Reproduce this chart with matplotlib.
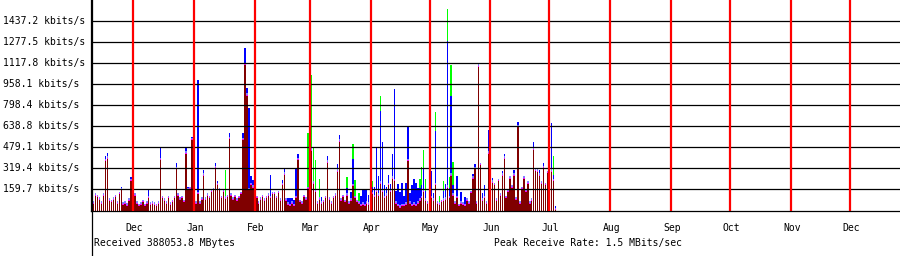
import matplotlib
matplotlib.use('Agg')
import matplotlib.pyplot as plt
import matplotlib.dates as mdates
import matplotlib.transforms as mtransforms
from matplotlib.lines import Line2D
import numpy as np
import pandas as pd

# daily traffic, kbits/s, starting 10 Nov
start = '2005-11-10'
red = [230, 60, 120, 110, 90, 60, 120, 380, 400, 80,
       70, 90, 110, 60, 130, 160, 50, 60, 45, 80,
       230, 225, 120, 60, 40, 50, 70, 40, 60, 100,
       50, 60, 50, 40, 60, 390, 100, 80, 60, 100,
       50, 70, 100, 320, 120, 90, 100, 70, 440, 160,
       170, 540, 110, 60, 130, 60, 90, 270, 90, 120,
       100, 150, 160, 330, 200, 160, 100, 150, 95, 110,
       550, 120, 90, 110, 80, 100, 130, 540, 1110, 880,
       160, 200, 180, 120, 100, 60, 90, 110, 80, 100,
       120, 100, 130, 130, 100, 140, 80, 200, 280, 80,
       50, 40, 60, 40, 100, 390, 70, 60, 110, 90,
       170, 100, 460, 210, 150, 60, 90, 60, 70, 100,
       370, 90, 60, 100, 120, 300, 530, 80, 110, 70,
       120, 60, 80, 190, 100, 70, 60, 40, 50, 40,
       60, 50, 100, 130, 110, 150, 120, 210, 150, 100,
       120, 200, 150, 250, 230, 60, 40, 30, 40, 40,
       50, 380, 60, 40, 50, 40, 60, 80, 100, 150,
       80, 60, 60, 100, 80, 200, 60, 50, 70, 80,
       90, 180, 100, 270, 120, 60, 100, 40, 60, 50,
       40, 80, 60, 140, 250, 320, 60, 1100, 350, 80,
       100, 60, 440, 100, 220, 200, 80, 230, 120, 270,
       400, 100, 150, 250, 180, 270, 90, 640, 60, 170,
       250, 150, 210, 60, 80, 470, 310, 300, 270, 210,
       330, 200, 290, 100, 300, 230, 10]
blue = [520, 0, 0, 0, 0, 0, 0, 20, 25, 0,
        0, 0, 0, 0, 0, 10, 0, 0, 0, 0,
        10, 0, 0, 0, 0, 0, 0, 0, 0, 50,
        0, 0, 0, 0, 0, 70, 0, 0, 0, 0,
        0, 0, 0, 30, 0, 0, 0, 0, 25, 10,
        0, 10, 0, 0, 850, 0, 0, 25, 0, 0,
        0, 0, 0, 20, 15, 0, 0, 0, 0, 0,
        30, 0, 0, 0, 0, 0, 0, 35, 110, 36,
        610, 50, 40, 0, 0, 0, 0, 0, 0, 0,
        0, 160, 0, 0, 0, 0, 0, 20, 20, 0,
        30, 40, 20, 30, 200, 25, 0, 0, 0, 0,
        0, 0, 0, 0, 0, 0, 0, 30, 0, 0,
        30, 0, 0, 0, 0, 40, 30, 0, 0, 0,
        40, 0, 50, 190, 0, 0, 0, 60, 100, 110,
        90, 60, 0, 40, 60, 310, 130, 530, 355, 80,
        50, 60, 40, 170, 680, 80, 150, 100, 160, 60,
        150, 245, 60, 140, 180, 160, 100, 80, 80, 155,
        60, 0, 0, 190, 40, 390, 0, 0, 0, 60,
        100, 1095, 60, 590, 60, 0, 150, 0, 70, 0,
        50, 0, 0, 0, 15, 25, 0, 0, 0, 40,
        80, 0, 160, 0, 15, 0, 0, 0, 0, 15,
        15, 0, 0, 0, 0, 25, 0, 20, 0, 0,
        0, 0, 0, 0, 0, 35, 0, 0, 25, 0,
        20, 0, 0, 0, 350, 30, 10]
green_day = [21, 68, 110, 112, 113, 114, 116, 130, 133, 134, 136, 143, 147,
             167, 168, 169, 170, 175, 177, 179, 181, 182, 183, 184, 235]
green_val = [140, 200, 405, 560, 260, 220, 140, 85, 115, 120, 60, 40, 115,
             70, 140, 140, 90, 145, 50, 70, 245, 80, 230, 180, 140]

tick_vals = [159.7, 319.4, 479.1, 638.8, 798.4, 958.1, 1117.8, 1277.5, 1437.2]
months = ['Dec', 'Jan', 'Feb', 'Mar', 'Apr', 'May', 'Jun', 'Jul',
          'Aug', 'Sep', 'Oct', 'Nov', 'Dec']
month_starts = pd.date_range('2005-12-01', periods=13, freq='MS')

red = np.array(red, dtype=float)
blue = np.array(blue, dtype=float)
green = np.zeros(len(red))
green[green_day] = green_val
days = mdates.date2num(pd.date_range(start, periods=len(red), freq='D'))

W, H = 900, 256
fig = plt.figure(figsize=(9, 2.56), dpi=100)
ax = fig.add_axes([91 / W, 45.5 / H, 809 / W, 210.5 / H])
ax.set_xlim(days[0] - 0.4, days[0] + 411.5)
ax.set_ylim(0, 1597.2)

px = 1597.2 / 210.5  # data units per pixel
bw = 0.75
kw = dict(width=bw, linewidth=0, antialiased=False)
ax.bar(days, red, color='#800000', zorder=2, **kw)
ax.bar(days, np.full(len(red), px), bottom=red - px, color='#ff00ff', zorder=2, **kw)
cap = 1.5 * px
ax.bar(days, np.full(len(red), cap), bottom=red, color='#8080ff', zorder=2, **kw)
ax.bar(days, blue, bottom=red + cap, color='#0000ff', zorder=2, **kw)
ax.bar(days, green, bottom=red + cap + blue, color='#00ff00', zorder=2, **kw)

for v in tick_vals:
    ax.axhline(v, color='black', lw=0.9, zorder=3)
for m in month_starts:
    ax.axvline(mdates.date2num(m), color='#ff0000', lw=1.6, zorder=4)

for s in ['top', 'right']:
    ax.spines[s].set_visible(False)
ax.spines['left'].set_linewidth(0.9)
ax.spines['bottom'].set_linewidth(0.9)
ax.set_xticks([])
ax.set_yticks([])

mono = 'DejaVu Sans Mono'
fs = 7.0
tr = mtransforms.blended_transform_factory(fig.transFigure, ax.transData)
for v in tick_vals:
    ax.text(3 / W, v, f'{v:.1f} kbits/s', transform=tr, ha='left', va='center',
            fontsize=fs, family=mono)

trx = mtransforms.blended_transform_factory(ax.transData, fig.transFigure)
for m, lab in zip(month_starts, months):
    ax.text(mdates.date2num(m) + 0.5, (H - 228) / H, lab, transform=trx,
            ha='center', va='center', fontsize=fs, family=mono, clip_on=False)

fig.text(94 / W, (H - 243) / H, 'Received 388053.8 MBytes', ha='left', va='center',
         fontsize=fs, family=mono)
fig.text(494 / W, (H - 243) / H, 'Peak Receive Rate: 1.5 MBits/sec', ha='left',
         va='center', fontsize=fs, family=mono)

fig.add_artist(Line2D([91.5 / W, 91.5 / W], [0, 1], color='black', lw=0.9,
                      transform=fig.transFigure))

fig.savefig('out.png', dpi=100, facecolor='white')
